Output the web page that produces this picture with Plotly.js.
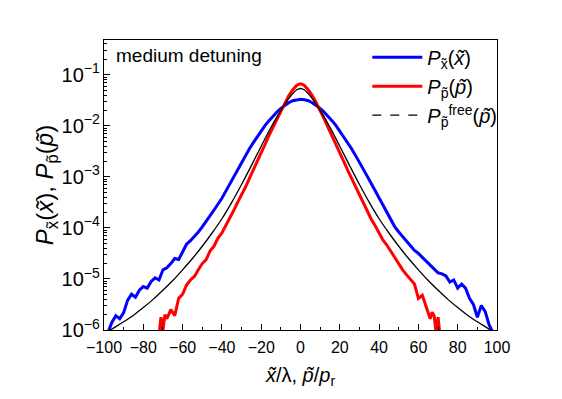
<!DOCTYPE html>
<html>
<head>
<meta charset="utf-8">
<script src="https://cdn.plot.ly/plotly-3.0.1.min.js"></script>
<style>
  body { margin: 0; background: #fff; }
  #graph { width: 562px; height: 399px; }
</style>
</head>
<body>
<div id="graph"></div>
<script>
// blue: position distribution P_x(x)
const blueX = [-98, -96, -94, -92, -90, -88, -86, -84, -82, -80, -78, -76, -74, -72, -70, -68, -66, -64, -62, -60,
  -58, -56, -54, -52, -50, -48, -46, -44, -42, -40, -38, -36, -34, -32, -30, -28, -26, -24, -22, -20,
  -18, -16, -14, -12, -10, -8, -6, -4, -2, 0, 2, 4, 6, 8, 10, 12, 14, 16, 18, 20,
  22, 24, 26, 28, 30, 32, 34, 36, 38, 40, 42, 44, 46, 48, 50, 52, 54, 56, 58, 60,
  62, 64, 66, 68, 70, 72, 74, 76, 78, 80, 82, 84, 86, 88, 90, 92, 94, 96, 98];
const blueY = [8.9e-7, 1.41e-6, 1.91e-6, 1.66e-6, 2.19e-6, 3.80e-6, 5.01e-6, 4.37e-6, 6.03e-6, 7.08e-6,
  6.61e-6, 8.91e-6, 1.05e-5, 9.55e-6, 1.51e-5, 1.66e-5, 2.00e-5, 2.51e-5, 2.40e-5, 3.31e-5,
  4.79e-5, 5.62e-5, 6.76e-5, 8.32e-5, 1.05e-4, 1.32e-4, 1.74e-4, 2.24e-4, 2.88e-4, 3.80e-4,
  5.25e-4, 7.24e-4, 1.02e-3, 1.41e-3, 1.95e-3, 2.63e-3, 3.55e-3, 4.68e-3, 6.17e-3, 7.94e-3,
  1.02e-2, 1.26e-2, 1.55e-2, 1.86e-2, 2.19e-2, 2.51e-2, 2.82e-2, 3.09e-2, 3.24e-2, 3.31e-2,
  3.24e-2, 3.09e-2, 2.82e-2, 2.51e-2, 2.19e-2, 1.86e-2, 1.55e-2, 1.26e-2, 1.02e-2, 7.94e-3,
  6.17e-3, 4.68e-3, 3.55e-3, 2.63e-3, 1.95e-3, 1.41e-3, 1.02e-3, 7.41e-4, 5.37e-4, 3.89e-4,
  2.88e-4, 2.14e-4, 1.45e-4, 1.05e-4, 8.32e-5, 6.76e-5, 5.25e-5, 4.37e-5, 3.63e-5, 3.16e-5,
  2.63e-5, 2.19e-5, 1.91e-5, 1.58e-5, 1.32e-5, 1.26e-5, 1.15e-5, 8.71e-6, 9.55e-6, 6.61e-6,
  7.94e-6, 6.61e-6, 4.17e-6, 3.16e-6, 1.78e-6, 3.02e-6, 2.29e-6, 1.26e-6, 8.9e-7];

// red: momentum distribution P_p(p)
const redX = [-72, -71, -70, -69, -68, -66, -64, -62, -60, -58, -56, -54, -52, -50, -48, -46, -44, -42, -40,
  -38, -36, -34, -32, -30, -28, -26, -24, -22, -20, -18, -16, -14, -12, -10, -8, -6, -4, -2, -1, 0,
  1, 2, 4, 6, 8, 10, 12, 14, 16, 18, 20, 22, 24, 26, 28, 30, 32, 34, 36, 38,
  40, 42, 44, 46, 48, 50, 52, 54, 56, 58, 60, 62, 64, 66, 67, 68, 69, 70, 71];
const redY = [7.9e-7, 1.78e-6, 1.0e-6, 2.0e-6, 1.66e-6, 2.51e-6, 1.91e-6, 4.17e-6, 5.01e-6, 7.59e-6,
  9.55e-6, 1.12e-5, 1.51e-5, 2.0e-5, 2.40e-5, 3.55e-5, 4.37e-5, 6.31e-5, 7.94e-5,
  1.10e-4, 1.58e-4, 2.19e-4, 3.16e-4, 4.37e-4, 6.31e-4, 9.33e-4, 1.35e-3, 2.0e-3, 2.95e-3,
  4.37e-3, 6.46e-3, 9.33e-3, 1.38e-2, 2.0e-2, 2.82e-2, 3.89e-2, 5.01e-2, 6.17e-2, 6.46e-2, 6.61e-2,
  6.46e-2, 6.17e-2, 5.01e-2, 3.89e-2, 2.82e-2, 2.0e-2, 1.38e-2, 9.33e-3, 6.46e-3, 4.37e-3, 2.95e-3,
  2.0e-3, 1.35e-3, 9.33e-4, 6.03e-4, 4.27e-4, 2.95e-4, 2.09e-4, 1.48e-4, 1.10e-4,
  7.94e-5, 5.75e-5, 4.57e-5, 3.47e-5, 2.51e-5, 1.91e-5, 1.51e-5, 1.20e-5, 9.55e-6, 7.94e-6,
  4.17e-6, 4.79e-6, 2.82e-6, 1.66e-6, 2.24e-6, 1.91e-6, 8.9e-7, 1.78e-6, 7.9e-7];

// black: free momentum distribution
const freeX = [-100, -95, -90, -85, -80, -75, -70, -65, -60, -55, -50, -45, -40, -35, -30, -25, -20, -15, -10, -5, -2, 0,
  2, 5, 10, 15, 20, 25, 30, 35, 40, 45, 50, 55, 60, 65, 70, 75, 80, 85, 90, 95, 100];
const freeY = [8.3e-7, 1.10e-6, 1.45e-6, 1.95e-6, 2.75e-6, 3.98e-6, 6.03e-6, 9.33e-6, 1.51e-5, 2.51e-5,
  4.37e-5, 7.94e-5, 1.51e-4, 3.16e-4, 7.08e-4, 1.66e-3, 3.98e-3, 9.33e-3, 2.0e-2, 3.80e-2, 5.01e-2, 5.37e-2,
  5.01e-2, 3.80e-2, 2.0e-2, 9.33e-3, 3.98e-3, 1.66e-3, 7.08e-4, 3.16e-4, 1.51e-4, 7.94e-5,
  4.37e-5, 2.51e-5, 1.51e-5, 9.33e-6, 6.03e-6, 3.98e-6, 2.75e-6, 1.95e-6, 1.45e-6, 1.10e-6, 8.3e-7];

const xTicks = [-100, -80, -60, -40, -20, 0, 20, 40, 60, 80, 100];

const font = 'Arial, "Liberation Sans", sans-serif';

const traces = [
  {
    x: blueX, y: blueY, mode: 'lines', type: 'scatter',
    name: '<i>P</i><sub>x̃</sub>(<i>x̃</i>)',
    line: { color: '#0000ff', width: 3 }
  },
  {
    x: redX, y: redY, mode: 'lines', type: 'scatter',
    name: '<i>P</i><sub>p̃</sub>(<i>p̃</i>)',
    line: { color: '#ff0000', width: 3 }
  },
  {
    x: freeX, y: freeY, mode: 'lines', type: 'scatter',
    showlegend: false,
    line: { color: '#000000', width: 1.3, shape: 'spline' }
  },
  // legend entry only (dashed sample, as in the original)
  {
    x: [null], y: [null], mode: 'lines', type: 'scatter',
    name: '<i>P</i><sub>p̃</sub><sup>free</sup>(<i>p̃</i>)',
    line: { color: '#000000', width: 1.3, dash: 'dash' }
  }
];

const layout = {
  width: 562,
  height: 399,
  margin: { l: 104, r: 65, t: 40, b: 69 },
  paper_bgcolor: '#fff',
  plot_bgcolor: '#fff',
  font: { family: font, size: 16, color: '#000' },
  showlegend: true,
  legend: {
    x: 0.67, y: 1.008, xanchor: 'left', yanchor: 'top',
    bgcolor: 'rgba(0,0,0,0)',
    font: { family: font, size: 20, color: '#000' },
    itemwidth: 50
  },
  xaxis: {
    range: [-100, 100],
    tickvals: xTicks,
    ticks: 'inside', ticklen: 6, tickwidth: 1, tickcolor: '#000',
    ticklabelstandoff: 3,
    minor: { dtick: 10, ticks: 'inside', ticklen: 3, tickcolor: '#000', showgrid: false },
    showline: true, linecolor: '#000', linewidth: 1, mirror: true,
    showgrid: false, zeroline: false,
    tickfont: { family: font, size: 16, color: '#000' },
    title: { text: '<i>x̃</i>/λ, <i>p̃</i>/<i>p</i><sub>r</sub>', font: { family: font, size: 20, color: '#000' }, standoff: 12 }
  },
  yaxis: {
    type: 'log',
    range: [-6, -0.32],
    dtick: 1,
    exponentformat: 'power',
    ticks: 'inside', ticklen: 6, tickwidth: 1, tickcolor: '#000',
    minor: { dtick: 'D1', ticks: 'inside', ticklen: 3, tickcolor: '#000', showgrid: false },
    showline: true, linecolor: '#000', linewidth: 1, mirror: true,
    showgrid: false, zeroline: false,
    tickfont: { family: font, size: 16, color: '#000' },
    title: { text: '<i>P</i><sub>x̃</sub>(<i>x̃</i>), <i>P</i><sub>p̃</sub>(<i>p̃</i>)', font: { family: font, size: 24, color: '#000' }, standoff: 0 }
  },
  annotations: [
    {
      text: 'medium detuning',
      xref: 'paper', yref: 'paper',
      x: 0.025, y: 0.945, xanchor: 'left', yanchor: 'middle',
      showarrow: false,
      font: { family: font, size: 19, color: '#000' }
    }
  ]
};

Plotly.newPlot('graph', traces, layout, { displayModeBar: false, staticPlot: true });
</script>
</body>
</html>
